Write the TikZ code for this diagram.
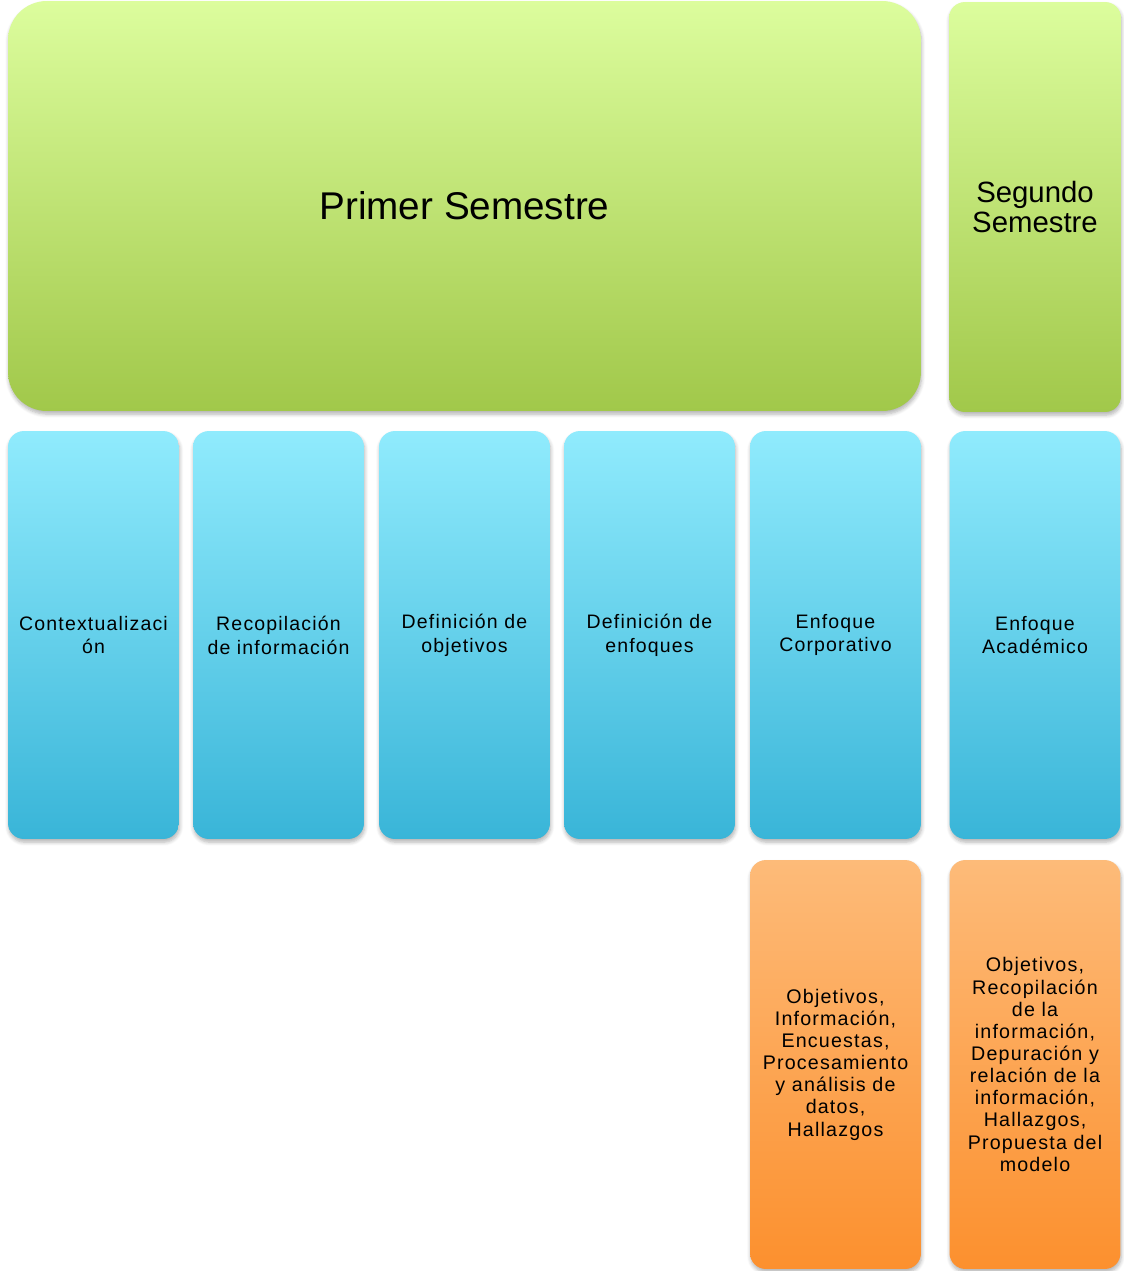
\documentclass[tikz,border=0pt]{standalone}
\usepackage{fontspec}
\setmainfont{Liberation Sans}
\newfontfamily\cajafont[LetterSpace=6]{Liberation Sans}
\usetikzlibrary{shadows.blur}

\definecolor{verdeA}{HTML}{DCFD9D}
\definecolor{verdeB}{HTML}{A1C84A}
\definecolor{azulA}{HTML}{90EBFD}
\definecolor{azulB}{HTML}{39B5D8}
\definecolor{naranjaA}{HTML}{FDBB79}
\definecolor{naranjaB}{HTML}{FC902E}

\tikzset{
    caja/.style={rectangle, rounded corners=9pt, inner sep=0pt, align=center,
        blur shadow={shadow xshift=0.4pt, shadow yshift=-1.8pt, shadow blur steps=6, shadow opacity=30}},
    semestre/.style={caja, top color=verdeA, bottom color=verdeB, minimum height=8.2cm},
    etapa/.style={caja, top color=azulA, bottom color=azulB, minimum width=3.42cm, minimum height=8.16cm,
        font=\cajafont\fontsize{11.1}{13.6}\selectfont},
    detalle/.style={caja, top color=naranjaA, bottom color=naranjaB, minimum width=3.42cm, minimum height=8.18cm,
        font=\cajafont\fontsize{11.2}{12.6}\selectfont}
}

\begin{document}
\begin{tikzpicture}[x=0.02cm, y=-0.02cm]
        \useasboundingbox (0, 0) rectangle (1123, 1271);

        % Semestres
        \node[semestre, rounded corners=22pt, minimum width=18.26cm, font=\fontsize{22}{26}\selectfont] at (464.5, 206) (primer) {Primer Semestre};
        \node[semestre, minimum width=3.44cm, font=\fontsize{16.7}{17.6}\selectfont] at (1035, 207) (segundo) {Segundo\\Semestre};

        % Etapas del primer semestre
        \node[etapa] at (93.5, 635) (contexto) {Contextualizaci\\ón};
        \node[etapa] at (278.5, 635) (recopilacion) {Recopilación\\de información};
        \node[etapa] at (464.5, 635) (objetivos) {Definición de\\objetivos};
        \node[etapa] at (649.5, 635) (enfoques) {Definición de\\enfoques};
        \node[etapa] at (835.5, 635) (corporativo) {Enfoque\\Corporativo};

        % Etapa del segundo semestre
        \node[etapa] at (1035, 635) (academico) {Enfoque\\Académico};

        % Detalle de cada enfoque
        \node[detalle] at (835.5, 1064.5) (detcorp) {Objetivos,\\Información,\\Encuestas,\\Procesamiento\\y análisis de\\datos,\\Hallazgos};
        \node[detalle] at (1035, 1064.5) (detacad) {Objetivos,\\Recopilación\\de la\\información,\\Depuración y\\relación de la\\información,\\Hallazgos,\\Propuesta del\\modelo};
    \end{tikzpicture}
\end{document}
